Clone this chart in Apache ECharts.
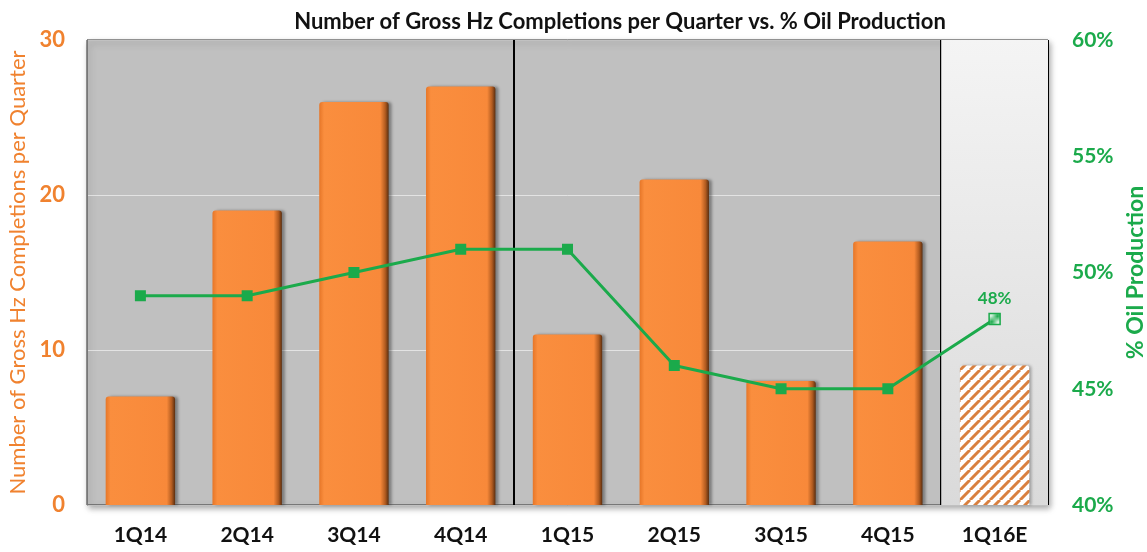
<!DOCTYPE html>
<html>
<head>
<meta charset="utf-8">
<script src="https://cdn.jsdelivr.net/npm/echarts@6/dist/echarts.min.js"></script>
<style>
  html, body { margin: 0; padding: 0; background: #fff; }
  #main { width: 1147px; height: 552px; }
</style>
</head>
<body>
<div id="main"></div>
<script>
// data
var quarters = ['1Q14', '2Q14', '3Q14', '4Q14', '1Q15', '2Q15', '3Q15', '4Q15', '1Q16E'];
var completions = [7, 19, 26, 27, 11, 21, 8, 17, 9];
var oilPct = [49, 49, 50, 51, 51, 46, 45, 45, 48];
var estimateIndex = 8;      // 1Q16E is an estimate (hatched)
var dividerIndexes = [4, 8]; // year separators drawn before these quarters

var ORANGE = '#F0822F';
var GREEN = '#1BAA4B';
var FONT = 'Lato, "Open Sans", sans-serif';

// diagonal "/" hatch pattern
function hatch(size, bg, fg, lw) {
    var c = document.createElement('canvas');
    c.width = size;
    c.height = size;
    var ctx = c.getContext('2d');
    ctx.fillStyle = bg;
    ctx.fillRect(0, 0, size, size);
    ctx.strokeStyle = fg;
    ctx.lineWidth = lw;
    ctx.beginPath();
    for (var k = -1; k <= 1; k++) {
        ctx.moveTo(k * size, size);
        ctx.lineTo(k * size + size, 0);
    }
    ctx.stroke();
    return {image: c, repeat: 'repeat'};
}

var barFill = new echarts.graphic.LinearGradient(0, 0, 1, 0, [
    {offset: 0, color: '#E67628'},
    {offset: 0.07, color: '#FA8E3E'},
    {offset: 0.88, color: '#F8893A'},
    {offset: 0.95, color: '#B35C20'},
    {offset: 1, color: '#5A2E10'}
]);

var barData = completions.map(function (v, i) {
    if (i === estimateIndex) {
        return {
            value: v,
            itemStyle: {
                color: hatch(10, '#FFFFFF', '#D9803F', 3),
                shadowColor: 'rgba(0,0,0,0.3)',
                shadowBlur: 3,
                shadowOffsetX: 2
            }
        };
    }
    return v;
});

var lineData = oilPct.map(function (v, i) {
    if (i === estimateIndex) {
        return {
            value: v,
            itemStyle: {
                color: hatch(4, '#FFFFFF', GREEN, 1.4),
                borderColor: GREEN,
                borderWidth: 1.5
            },
            label: {
                show: true,
                position: 'top',
                distance: 6,
                formatter: '{c}%',
                color: GREEN,
                fontFamily: FONT,
                fontWeight: 'bold',
                fontSize: 17
            }
        };
    }
    return v;
});

// light background only behind the estimate quarter
var estimateBg = quarters.map(function (q, i) {
    return i === estimateIndex ? 30 : null;
});

var myChart = echarts.init(document.getElementById('main'));

var option = {
    animation: false,
    title: {
        text: 'Number of Gross Hz Completions per Quarter vs. % Oil Production',
        left: 615,
        textAlign: 'center',
        top: 6,
        textStyle: {
            fontFamily: FONT,
            fontWeight: 'bold',
            fontSize: 22,
            color: '#111'
        }
    },
    grid: {
        left: 87,
        right: 99,
        top: 40,
        bottom: 47,
        outerBoundsMode: 'none',
        show: true,
        backgroundColor: '#C0C0C0',
        borderColor: '#333',
        borderWidth: 1,
        shadowColor: 'rgba(0,0,0,0.35)',
        shadowBlur: 6,
        shadowOffsetX: 2,
        shadowOffsetY: 3
    },
    xAxis: [
        {
            type: 'category',
            data: quarters,
            axisLine: {show: false},
            axisTick: {show: false},
            axisLabel: {
                margin: 20,
                color: '#111',
                fontFamily: FONT,
                fontWeight: 'bold',
                fontSize: 21
            },
            splitLine: {
                show: true,
                interval: function (index) {
                    return dividerIndexes.indexOf(index) >= 0;
                },
                lineStyle: {color: '#000', width: 2}
            }
        },
        {
            type: 'category',
            data: quarters,
            show: false
        }
    ],
    yAxis: [
        {
            type: 'value',
            min: 0,
            max: 30,
            interval: 10,
            name: 'Number of Gross Hz Completions per Quarter',
            nameLocation: 'middle',
            nameGap: 53,
            nameTextStyle: {
                color: ORANGE,
                fontFamily: FONT,
                fontSize: 22
            },
            axisLine: {show: true, lineStyle: {color: '#777'}},
            axisTick: {show: false},
            axisLabel: {
                margin: 22,
                color: ORANGE,
                fontFamily: FONT,
                fontWeight: 'bold',
                fontSize: 22
            },
            splitLine: {lineStyle: {color: 'rgba(255,255,255,0.55)', width: 1}}
        },
        {
            type: 'value',
            min: 40,
            max: 60,
            interval: 5,
            name: '% Oil Production',
            nameLocation: 'middle',
            nameRotate: 90,
            nameGap: 72,
            nameTextStyle: {
                color: GREEN,
                fontFamily: FONT,
                fontWeight: 'bold',
                fontSize: 23
            },
            axisLine: {show: false},
            axisTick: {show: false},
            axisLabel: {
                margin: 24,
                formatter: '{value}%',
                color: GREEN,
                fontFamily: FONT,
                fontWeight: 'bold',
                fontSize: 21
            },
            splitLine: {show: false}
        }
    ],
    series: [
        {
            name: 'bg',
            type: 'bar',
            xAxisIndex: 1,
            yAxisIndex: 0,
            data: estimateBg,
            barWidth: '100%',
            silent: true,
            z: 0,
            itemStyle: {
                color: new echarts.graphic.LinearGradient(0, 0, 0, 1, [
                    {offset: 0, color: '#F4F4F4'},
                    {offset: 1, color: '#DADADA'}
                ])
            }
        },
        {
            name: 'Completions',
            type: 'bar',
            xAxisIndex: 0,
            yAxisIndex: 0,
            data: barData,
            barWidth: '65%',
            z: 2,
            itemStyle: {
                color: barFill,
                borderRadius: [3, 3, 0, 0],
                shadowColor: 'rgba(0,0,0,0.35)',
                shadowBlur: 3,
                shadowOffsetX: 3
            }
        },
        {
            name: '% Oil',
            type: 'line',
            xAxisIndex: 0,
            yAxisIndex: 1,
            data: lineData,
            z: 5,
            symbol: 'rect',
            symbolSize: 11,
            lineStyle: {color: GREEN, width: 3},
            itemStyle: {color: GREEN}
        }
    ]
};

myChart.setOption(option);
</script>
</body>
</html>
